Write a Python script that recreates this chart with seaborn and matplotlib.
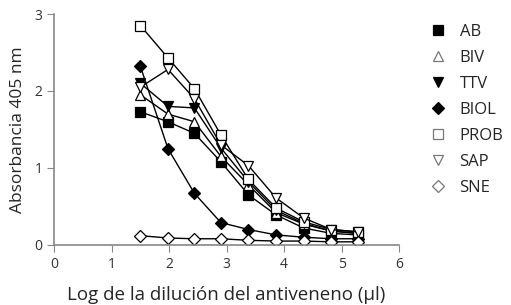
import matplotlib
matplotlib.use('Agg')
import matplotlib.pyplot as plt
from matplotlib.lines import Line2D
import seaborn as sns
import pandas as pd

# log dilution points (3-fold serial dilutions)
log_dil = [1.5, 1.98, 2.44, 2.9, 3.38, 3.86, 4.34, 4.82, 5.28]

series = ["AB", "BIV", "TTV", "BIOL", "PROB", "SAP", "SNE"]
ab   = [1.73, 1.60, 1.45, 1.08, 0.65, 0.39, 0.22, 0.15, 0.13]
biv  = [1.95, 1.70, 1.60, 1.15, 0.78, 0.42, 0.27, 0.18, 0.15]
ttv  = [2.10, 1.80, 1.78, 1.26, 0.82, 0.45, 0.28, 0.18, 0.15]
biol = [2.32, 1.25, 0.67, 0.29, 0.20, 0.13, 0.10, 0.08, 0.08]
prob = [2.85, 2.43, 2.03, 1.43, 0.85, 0.48, 0.30, 0.20, 0.17]
sap  = [2.05, 2.28, 1.90, 1.30, 1.03, 0.61, 0.35, 0.20, 0.17]
sne  = [0.12, 0.09, 0.08, 0.08, 0.06, 0.05, 0.05, 0.04, 0.04]
values = [ab, biv, ttv, biol, prob, sap, sne]

markers = {"AB": ("s", "black"), "BIV": ("^", "white"), "TTV": ("v", "black"),
           "BIOL": ("D", "black"), "PROB": ("s", "white"), "SAP": ("v", "white"),
           "SNE": ("D", "white")}

df = pd.DataFrame({
    "x": log_dil * len(series),
    "y": sum(values, []),
    "serie": [s for s in series for _ in log_dil],
})

sns.set_style("ticks")
plt.rcParams['font.family'] = ['Open Sans', 'DejaVu Sans']

fig = plt.figure(figsize=(5.11, 3.05), dpi=100)
ax = fig.add_axes([0.106, 0.197, 0.675, 0.757])

for s in series:
    m, fc = markers[s]
    ms = 6 if m == "D" else 7
    sns.lineplot(data=df[df.serie == s], x="x", y="y", ax=ax, color="black",
                 linewidth=1, marker=m, markersize=ms, markerfacecolor=fc,
                 markeredgecolor="black", markeredgewidth=0.9, legend=False)

ax.set_xlim(0, 6)
ax.set_ylim(0, 3)
ax.set_xticks(range(0, 7))
ax.set_yticks(range(0, 4))
ax.set_xlabel("Log de la dilución del antiveneno (µl)", fontsize=13.5, labelpad=10)
ax.set_ylabel("Absorbancia 405 nm", fontsize=12.5, labelpad=6)
ax.tick_params(colors="#333333", labelsize=10, length=5, color="#888888")
for sp in ["left", "bottom"]:
    ax.spines[sp].set_color("#888888")
    ax.spines[sp].set_linewidth(1.2)
sns.despine(ax=ax)

handles = []
for s in series:
    m, fc = markers[s]
    ec = "black" if fc == "black" else "#777777"
    handles.append(Line2D([], [], linestyle="none", marker=m, markersize=7 if m != "D" else 6,
                          markerfacecolor=fc, markeredgecolor=ec, markeredgewidth=0.9))
fig.legend(handles, series, loc="upper left", bbox_to_anchor=(0.795, 0.97),
           frameon=False, fontsize=12, handletextpad=0.3, labelspacing=0.6)

fig.savefig("out.png", dpi=100)
